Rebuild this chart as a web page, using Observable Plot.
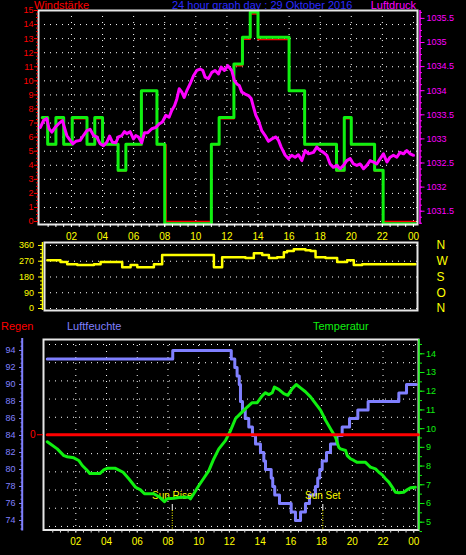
<!DOCTYPE html>
<html><head><meta charset="utf-8">
<script src="https://cdn.jsdelivr.net/npm/d3@7"></script>
<script src="https://cdn.jsdelivr.net/npm/@observablehq/plot@0.6"></script>
<style>
html,body{margin:0;padding:0;background:#000;}
#chart{position:relative;width:466px;height:555px;overflow:hidden;background:#000;}
#chart svg{position:absolute;left:0;top:0;}
.t{position:absolute;font:11px "Liberation Sans",Arial,sans-serif;line-height:11px;white-space:nowrap;}
</style></head>
<body><div id="chart">
<div class="t" style="left:34px;top:0px;color:#ff0000">Windstärke</div>
<div class="t" style="left:172px;top:0px;color:#2a2aff">24 hour graph day : 29 Oktober 2016</div>
<div class="t" style="right:50px;top:0px;color:#ff00ff">Luftdruck</div>
<div class="t" style="left:1px;top:321px;color:#ff0000">Regen</div>
<div class="t" style="left:67px;top:321px;color:#8080ff">Luftfeuchte</div>
<div class="t" style="left:313px;top:321px;color:#10f010">Temperatur</div>
</div>
<script>
// ---------------- DATA ----------------
// Windstärke (gust, green) as step values [hour, value]
const windGust = [[0.12,7.4],[0.47,5.5],[1.0,7.4],[1.5,5.5],[2.05,7.4],[3.0,5.5],[3.5,7.4],[4.0,5.5],[5.0,3.65],[5.5,5.5],[6.5,9.3],[7.5,5.5],[8.0,-0.15],[11.0,5.5],[11.5,7.4],[12.45,11.2],[13.0,13.1],[13.5,14.9],[14.0,13.1],[16.0,9.3],[17.0,5.5],[19.05,3.65],[19.55,7.4],[20.0,5.5],[21.5,3.65],[22.05,-0.15],[24.13,-0.15]];
// Windstärke (average, red)
const windAvg = [[0.12,7.3],[0.47,5.45],[1.0,7.3],[1.5,5.45],[2.05,7.3],[3.0,5.45],[3.5,7.3],[4.0,5.45],[5.0,3.6],[5.5,5.45],[6.5,9.26],[7.5,5.45],[8.08,0],[11.0,5.45],[11.5,7.3],[12.45,11.07],[13.0,12.96],[13.5,14.76],[14.0,12.94],[16.0,9.26],[17.0,5.45],[19.05,3.6],[19.55,7.3],[20.0,5.45],[21.5,3.6],[22.05,0],[24.13,0]];
// Luftdruck [hour, hPa]
const pressure = [[0.00,1033.24],[0.20,1033.38],[0.41,1033.42],[0.56,1033.21],[0.74,1033.14],[0.95,1033.24],[1.16,1033.31],[1.42,1033.38],[1.70,1033.07],[1.92,1032.97],[2.09,1032.90],[2.28,1032.95],[2.56,1032.97],[2.77,1033.07],[2.99,1033.17],[3.20,1033.20],[3.42,1033.07],[3.63,1033.04],[3.84,1032.90],[4.06,1032.86],[4.27,1032.93],[4.45,1033.06],[4.64,1032.93],[4.85,1032.92],[5.02,1033.04],[5.24,1033.07],[5.41,1033.15],[5.56,1033.11],[5.77,1033.15],[5.99,1033.00],[6.14,1033.07],[6.31,1033.04],[6.52,1032.92],[6.70,1033.13],[6.91,1033.13],[7.17,1033.21],[7.43,1033.24],[7.64,1033.31],[7.85,1033.35],[8.07,1033.49],[8.28,1033.45],[8.45,1033.59],[8.63,1033.69],[8.78,1033.83],[8.93,1034.04],[9.10,1033.97],[9.25,1033.86],[9.42,1034.00],[9.63,1034.14],[9.85,1034.31],[10.06,1034.42],[10.28,1034.45],[10.45,1034.42],[10.60,1034.28],[10.81,1034.25],[11.03,1034.38],[11.24,1034.42],[11.46,1034.35],[11.63,1034.49],[11.84,1034.42],[12.06,1034.52],[12.31,1034.42],[12.48,1034.21],[12.64,1034.14],[12.79,1034.11],[12.96,1033.97],[13.17,1033.93],[13.39,1033.90],[13.56,1033.84],[13.71,1033.66],[13.86,1033.49],[14.03,1033.38],[14.24,1033.17],[14.46,1033.07],[14.67,1032.95],[14.89,1033.00],[15.15,1033.04],[15.32,1032.97],[15.49,1032.83],[15.75,1032.66],[15.96,1032.59],[16.17,1032.66],[16.39,1032.62],[16.60,1032.67],[16.82,1032.55],[17.03,1032.76],[17.25,1032.69],[17.57,1032.72],[17.78,1032.83],[18.00,1032.76],[18.21,1032.72],[18.43,1032.66],[18.64,1032.48],[18.85,1032.41],[19.07,1032.45],[19.28,1032.38],[19.50,1032.45],[19.71,1032.55],[19.93,1032.59],[20.14,1032.48],[20.36,1032.45],[20.57,1032.48],[20.79,1032.38],[21.00,1032.45],[21.21,1032.55],[21.43,1032.52],[21.64,1032.48],[21.86,1032.59],[22.07,1032.69],[22.29,1032.52],[22.50,1032.62],[22.71,1032.66],[22.93,1032.62],[23.14,1032.72],[23.36,1032.69],[23.57,1032.76],[23.79,1032.69],[24.00,1032.66]];
// Windrichtung [hour, degrees]
const direction = [[0.44,276],[1.29,265],[1.72,253],[2.37,248],[3.44,253],[3.87,265],[5.26,236],[5.8,248],[6.23,236],[7.3,253],[7.83,305],[11.16,236],[11.69,293],[13.19,288],[13.73,316],[14.27,305],[14.7,288],[15.23,293],[15.66,322],[15.87,328],[16.3,339],[17.05,333],[17.38,328],[17.7,293],[18.34,288],[19.09,265],[19.73,276],[20.16,248],[20.7,253],[24.13,253]];
// Luftfeuchte [hour, %]
const humidity = [[0.14,93],[8.31,94],[12.12,93],[12.35,92],[12.5,91],[12.64,90],[12.72,88],[12.85,87],[13.03,86],[13.26,85],[13.5,84],[13.7,83],[14.02,82],[14.24,81],[14.35,80],[14.72,79],[14.82,78],[14.95,77],[15.26,76],[16.02,75],[16.3,74],[16.63,75],[16.95,76],[17.21,77],[17.6,78],[17.75,79],[17.88,80],[18.04,81],[18.32,82],[18.58,83],[19.0,84],[19.34,85],[19.82,86],[20.36,87],[21.03,88],[23.03,89],[23.53,90],[24.16,90]];
// Temperatur [hour, °C]
const temperature = [[0.14,9.3],[0.35,9.18],[0.79,8.92],[1.22,8.56],[1.44,8.5],[1.87,8.44],[2.19,8.3],[2.42,8.03],[2.7,7.8],[2.91,7.6],[3.56,7.6],[3.82,7.8],[4.04,7.88],[4.58,7.88],[5.08,7.67],[5.45,7.32],[5.89,6.87],[6.21,6.73],[6.47,6.52],[7.08,6.52],[7.47,6.33],[7.77,6.1],[7.95,6.25],[8.38,6.28],[8.82,6.33],[9.36,6.33],[9.47,6.25],[9.68,6.52],[10.01,6.96],[10.33,7.35],[10.66,7.76],[10.98,8.38],[11.31,8.92],[11.74,9.36],[12.07,9.89],[12.4,10.54],[12.72,10.8],[13.05,11.07],[13.48,11.39],[13.81,11.39],[14.13,11.75],[14.35,11.92],[14.56,11.82],[14.79,11.92],[14.93,12.22],[15.21,12.1],[15.54,11.87],[15.8,11.78],[16.09,12.14],[16.35,12.36],[16.63,12.18],[16.95,11.97],[17.28,11.7],[17.6,11.35],[17.93,10.99],[18.25,10.46],[18.58,10.0],[18.91,9.54],[19.12,9.0],[19.23,8.92],[19.56,8.83],[19.67,8.56],[19.88,8.39],[20.1,8.3],[20.32,8.2],[20.86,8.2],[21.07,8.03],[21.18,7.94],[21.51,7.85],[21.73,7.67],[21.95,7.53],[22.16,7.32],[22.38,7.14],[22.6,6.87],[22.81,6.6],[23.03,6.57],[23.35,6.6],[23.57,6.73],[23.79,6.84],[24.11,6.87]];
// Regen [hour, mm]
const rain = [[0.14,0],[24.3,0]];
// Sun events
const sunLabels = ["Sun Rise", "Sun Set"];
const sunHours = [8.28, 18.08];

// Tick labels
const hourTicks = [2,4,6,8,10,12,14,16,18,20,22,24];
const hourLabels = ["02","04","06","08","10","12","14","16","18","20","22","00"];
const halfHourTicks = d3.range(0.5, 24.01, 0.5);
const windTicks = d3.range(0, 16, 1);
const windMinor = d3.range(0, 15.01, 0.25);
const windGrid = d3.range(0, 15, 1);
const pressTicks = [1031.5,1032,1032.5,1033,1033.5,1034,1034.5,1035,1035.5];
const pressLabels = ["1031.5","1032","1032.5","1033","1033.5","1034","1034.5","1035","1035.5"];
const pressMinor = d3.range(1031.25, 1035.66, 0.125);
const dirTicks = [0,90,180,270,360];
const dirMinor = d3.range(0, 361, 22.5);
const dirLetters = ["N","O","S","W","N"];
const humTicks = [74,76,78,80,82,84,86,88,90,92,94];
const humMinor = d3.range(73, 95.01, 0.5);
const humGrid = d3.range(-5, 6).map(k => +(84 + k * 2.14).toFixed(2));
const tempTicks = [5,6,7,8,9,10,11,12,13,14];
const tempMinor = d3.range(4.5, 14.51, 0.5);
const rainTicks = [0];
const rainLabels = ["0"];

// ---------------- LAYOUT ----------------
const W = 466, H = 555;
const FONT = '"Liberation Sans Narrow","Arial Narrow","Liberation Sans",Arial,sans-serif';
const C = {red:"#ff0000", green:"#10f010", mag:"#ff00ff", yel:"#ffff00", blue:"#8080ff", frame:"#e6e6e6", grid:"#ffffff"};
const boxTop = {top:10, bottom:224, left:38, right:417};
const boxMid = {top:242, bottom:310, left:44, right:417};
const boxBot = {top:339, bottom:529.5, left:43, right:418};
const xTop = [-0.12, 24.26], xMid = [0.26, 24.26], xBot = [-0.104, 24.31];

const chart = document.getElementById("chart");
const X = d => d[0], Y = d => d[1];
const dots = {stroke: C.grid, strokeDasharray: "1,5", strokeWidth: 1};

function layer(box, xDomain, yDomain, marks) {
  const svg = Plot.plot({
    width: W, height: H,
    marginTop: box.top, marginBottom: H - box.bottom,
    marginLeft: box.left, marginRight: W - box.right,
    x: {domain: xDomain, axis: null},
    y: {domain: yDomain, axis: null},
    style: {background: "transparent", color: "#fff", fontFamily: FONT, overflow: "visible"},
    marks
  });
  chart.appendChild(svg);
}
const blank = () => "";
const lookup = (ticks, labels) => d => labels[ticks.indexOf(d)];
const plain = d => String(d);

// ---- Top panel: Windstärke ----
layer(boxTop, xTop, [-0.21, 15.0], [
  Plot.ruleY(windGrid, dots),
  Plot.ruleX(hourTicks, dots),
  Plot.line(windAvg, {x: X, y: Y, curve: "step-after", stroke: C.red, strokeWidth: 1.5}),
  Plot.line(windGust, {x: X, y: Y, curve: "step-after", stroke: C.green, strokeWidth: 3}),
  Plot.frame({stroke: C.frame, strokeWidth: 2}),
  Plot.axisY(windMinor, {anchor: "left", tickSize: 2, tickFormat: blank, stroke: C.red, fill: "none", label: null}),
  Plot.axisY(windTicks, {anchor: "left", tickSize: 4, tickPadding: 1, tickFormat: plain, stroke: C.red, fill: C.red, fontSize: 9, label: null}),
  Plot.axisX(halfHourTicks, {anchor: "bottom", tickSize: 3, tickFormat: blank, stroke: "#fff", fill: "none", label: null}),
  Plot.axisX(hourTicks, {anchor: "bottom", tickSize: 3, tickPadding: 5, tickFormat: lookup(hourTicks, hourLabels), stroke: "#fff", fill: C.yel, fontSize: 10, label: null})
]);
// ---- Top panel overlay: Luftdruck ----
layer(boxTop, xTop, [1031.224, 1035.664], [
  Plot.line(pressure, {x: X, y: Y, stroke: C.mag, strokeWidth: 3}),
  Plot.ruleX([xTop[1]], {dx: 2.5, stroke: C.mag, strokeWidth: 1.5}),
  Plot.axisY(pressMinor, {anchor: "right", dx: 2, tickSize: 2, tickFormat: blank, stroke: C.mag, fill: "none", label: null}),
  Plot.axisY(pressTicks, {anchor: "right", dx: 2, tickSize: 4.5, tickPadding: 2.5, tickFormat: lookup(pressTicks, pressLabels), stroke: C.mag, fill: C.mag, fontSize: 9, label: null})
]);
// ---- Middle panel: Windrichtung ----
layer(boxMid, xMid, [-11.4, 377], [
  Plot.ruleY(dirTicks, dots),
  Plot.line(direction, {x: X, y: Y, curve: "step-after", stroke: C.yel, strokeWidth: 2.5}),
  Plot.frame({stroke: C.frame, strokeWidth: 2}),
  Plot.ruleX([xMid[0]], {dx: -2, stroke: C.yel, strokeWidth: 1.5}),
  Plot.axisY(dirMinor, {anchor: "left", dx: -2, tickSize: 2, tickFormat: blank, stroke: C.yel, fill: "none", label: null}),
  Plot.axisY(dirTicks, {anchor: "left", dx: -2, tickSize: 4, tickPadding: 4.5, tickFormat: plain, stroke: C.yel, fill: C.yel, fontSize: 9, label: null}),
  Plot.axisY(dirTicks, {anchor: "right", tickSize: 0, tickPadding: 19, tickFormat: lookup(dirTicks, dirLetters), fill: C.yel, fontSize: 12, label: null})
]);
// ---- Bottom panel: Luftfeuchte ----
layer(boxBot, xBot, [72.88, 95.29], [
  Plot.ruleY(humGrid, dots),
  Plot.ruleX(hourTicks, dots),
  Plot.line(humidity, {x: X, y: Y, curve: "step-after", stroke: C.blue, strokeWidth: 3}),
  Plot.frame({stroke: C.frame, strokeWidth: 2}),
  Plot.ruleX([xBot[0]], {dx: -21.3, stroke: C.blue, strokeWidth: 2, insetTop: -1, insetBottom: -1}),
  Plot.axisY(humMinor, {anchor: "left", dx: -20.5, tickSize: 2, tickFormat: blank, stroke: C.blue, fill: "none", label: null}),
  Plot.axisY(humTicks, {anchor: "left", dx: -20, tickSize: 4, tickPadding: 4, tickFormat: plain, stroke: C.blue, fill: C.blue, fontSize: 9, label: null}),
  Plot.axisX(halfHourTicks, {anchor: "bottom", tickSize: 3, tickFormat: blank, stroke: "#ddd", fill: "none", label: null}),
  Plot.axisX(hourTicks, {anchor: "bottom", tickSize: 3, tickPadding: 4.5, tickFormat: lookup(hourTicks, hourLabels), stroke: "#ddd", fill: C.yel, fontSize: 10, label: null}),
  Plot.ruleX(sunHours, {stroke: "#fff", strokeWidth: 1, insetTop: 165, insetBottom: 19.5}),
  Plot.ruleX(sunHours, {stroke: C.yel, strokeWidth: 1, strokeDasharray: "1,1.5", insetTop: 171}),
  Plot.text(sunHours, {x: d => d, text: (d, i) => sunLabels[i], frameAnchor: "bottom", dy: -31, fill: C.yel, fontSize: 10})
]);
// ---- Bottom overlay: Temperatur ----
layer(boxBot, xBot, [4.583, 14.764], [
  Plot.line(temperature, {x: X, y: Y, stroke: C.green, strokeWidth: 3}),
  Plot.ruleX([xBot[1]], {dx: 0.5, stroke: C.green, strokeWidth: 1.5}),
  Plot.axisY(tempMinor, {anchor: "right", dx: 0.5, tickSize: 2.5, tickFormat: blank, stroke: C.green, fill: "none", label: null}),
  Plot.axisY(tempTicks, {anchor: "right", dx: 0.5, tickSize: 5, tickPadding: 2, tickFormat: plain, stroke: C.green, fill: C.green, fontSize: 9, label: null})
]);
// ---- Bottom overlay: Regen ----
layer(boxBot, xBot, [-1, 1], [
  Plot.line(rain, {x: X, y: Y, stroke: C.red, strokeWidth: 3}),
  Plot.axisY(rainTicks, {anchor: "left", tickSize: 6, tickPadding: 2, tickFormat: lookup(rainTicks, rainLabels), stroke: C.red, fill: C.red, fontSize: 10, label: null})
]);
</script>
</body></html>
